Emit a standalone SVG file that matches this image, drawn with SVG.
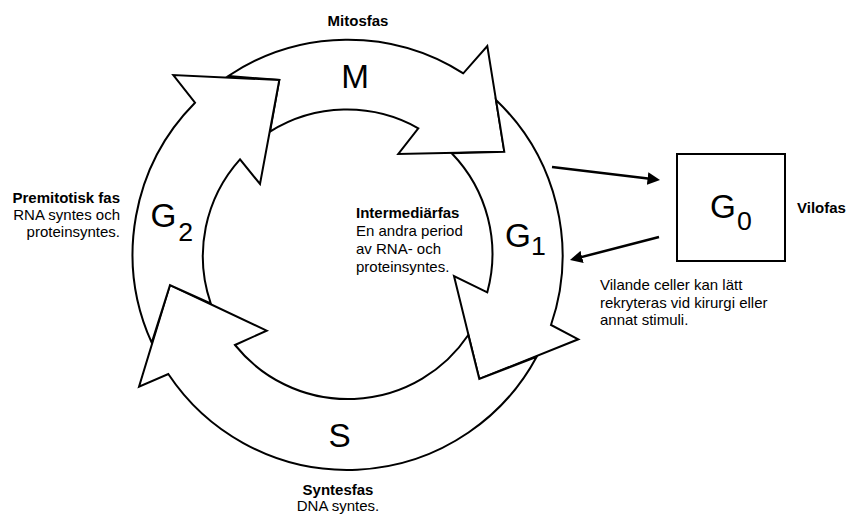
<svg xmlns="http://www.w3.org/2000/svg" width="849" height="516" viewBox="0 0 849 516">
<style>
.arrow{fill:#fff;stroke:#000;stroke-width:2;stroke-linejoin:miter}
.big{font-family:"Liberation Sans",Arial,sans-serif;font-size:33.3px;fill:#000}
.sub{font-size:26.7px}
.lbl{font-family:"Liberation Sans",Arial,sans-serif;font-size:15px;fill:#000}
.b{font-weight:bold}
.conn{stroke:#000;stroke-width:2.5;fill:none}
</style>
<defs>
<marker id="ah" viewBox="0 0 10 10" refX="7" refY="5" markerWidth="5" markerHeight="5" orient="auto" markerUnits="strokeWidth">
<path d="M0,0 L10,5 L0,10 z" fill="#000"/>
</marker>
</defs>
<rect width="849" height="516" fill="#fff"/>
<g id="phase-M">
<path class="arrow" d="M228.3,76 A215,215 0 0 1 463.3,73.3 L487.3,46 L504.3,151.7 L398.3,154 L418.3,128.3 A145,145 0 0 0 270,131.7 L279.3,80 Z"/>
<text class="big" x="355" y="88" text-anchor="middle">M</text>
</g>
<g id="phase-G1">
<path class="arrow" d="M496,100 A215,215 0 0 1 551,325 L578.3,339.3 L479.3,379 L454,276 L487.3,292.3 A145,145 0 0 0 451.7,153.3 L504.3,151.7 Z"/>
<text class="big" x="505" y="247.3">G<tspan class="sub" dy="8">1</tspan></text>
</g>
<g id="phase-S">
<path class="arrow" d="M536.7,356.7 A215,215 0 0 1 168.3,374 L139,386.7 L170,285 L266.7,330.7 L235,345 A145,145 0 0 0 468.3,335 L479.3,379 Z"/>
<text class="big" x="339.7" y="446.5" text-anchor="middle">S</text>
</g>
<g id="phase-G2">
<path class="arrow" d="M151.7,342.7 A215,215 0 0 1 195,102.7 L173.3,75 L279.3,80 L260,184 L240,159.3 A145,145 0 0 0 210.7,303.3 L170,285 Z"/>
<text class="big" x="150.4" y="226.7">G<tspan class="sub" dx="2" dy="14.3">2</tspan></text>
</g>
<g id="phase-G0">
<rect x="677" y="154" width="108" height="107" fill="#fff" stroke="#000" stroke-width="2"/>
<text class="big" x="710" y="218.3">G<tspan class="sub" dx="1" dy="11.7">0</tspan></text>
</g>
<g id="connectors">
<line class="conn" x1="552" y1="167" x2="656.3" y2="179.55" marker-end="url(#ah)"/>
<line class="conn" x1="659" y1="237" x2="573.6" y2="259.1" marker-end="url(#ah)"/>
</g>
<g id="labels">
<text class="lbl b" x="358" y="26" text-anchor="middle">Mitosfas</text>
<text class="lbl" text-anchor="end"><tspan class="b" x="120" y="203">Premitotisk fas</tspan><tspan x="120" y="220">RNA syntes och</tspan><tspan x="120" y="237">proteinsyntes.</tspan></text>
<text class="lbl"><tspan class="b" x="356" y="217.5">Intermediärfas</tspan><tspan x="356" y="236">En andra period</tspan><tspan x="356" y="254">av RNA- och</tspan><tspan x="356" y="272">proteinsyntes.</tspan></text>
<text class="lbl" text-anchor="middle"><tspan class="b" x="338" y="495">Syntesfas</tspan><tspan x="338" y="511">DNA syntes.</tspan></text>
<text class="lbl b" x="797" y="213">Vilofas</text>
<text class="lbl"><tspan x="600" y="290">Vilande celler kan lätt</tspan><tspan x="600" y="307.5">rekryteras vid kirurgi eller</tspan><tspan x="600" y="325">annat stimuli.</tspan></text>
</g>
</svg>
